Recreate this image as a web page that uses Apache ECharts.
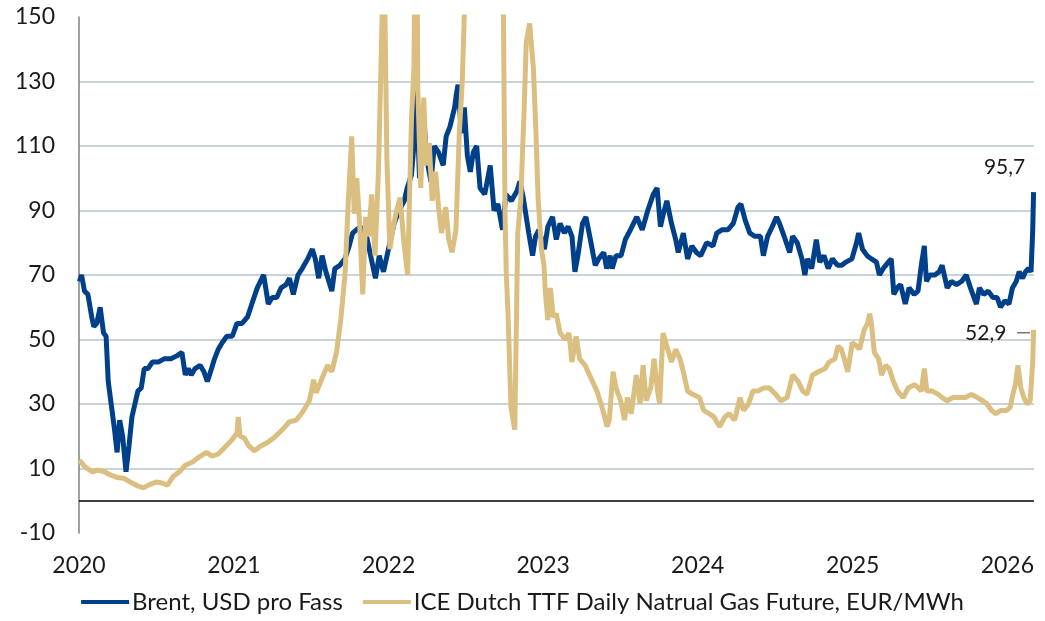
<!DOCTYPE html>
<html>
<head>
<meta charset="utf-8">
<script src="https://cdn.jsdelivr.net/npm/echarts@6/dist/echarts.min.js"></script>
<style>
  html, body { margin: 0; padding: 0; background: #fff; }
  #chart { width: 1045px; height: 621px; }
</style>
</head>
<body>
<div id="chart"></div>
<script>
// Brent (USD pro Fass)
const brentDates = [
  '2020-01-02','2020-01-07','2020-01-14','2020-01-22','2020-01-31','2020-02-05','2020-02-12','2020-02-20','2020-02-28','2020-03-05',
  '2020-03-10','2020-03-17','2020-03-24','2020-03-31','2020-04-06','2020-04-13','2020-04-21','2020-04-28','2020-05-05','2020-05-12',
  '2020-05-19','2020-05-27','2020-06-03','2020-06-12','2020-06-22','2020-07-06','2020-07-20','2020-08-05','2020-08-20','2020-08-31',
  '2020-09-08','2020-09-15','2020-09-22','2020-10-01','2020-10-13','2020-10-22','2020-10-30','2020-11-09','2020-11-16','2020-11-25',
  '2020-12-04','2020-12-15','2020-12-28','2021-01-08','2021-01-20','2021-02-02','2021-02-12','2021-02-25','2021-03-08','2021-03-12',
  '2021-03-23','2021-04-01','2021-04-12','2021-04-22','2021-05-04','2021-05-12','2021-05-21','2021-06-01','2021-06-11','2021-06-24',
  '2021-07-05','2021-07-12','2021-07-20','2021-07-28','2021-08-06','2021-08-20','2021-08-27','2021-09-08','2021-09-20','2021-09-30',
  '2021-10-08','2021-10-26','2021-11-10','2021-11-26','2021-12-01','2021-12-10','2021-12-20','2022-01-04','2022-01-14','2022-01-26',
  '2022-02-07','2022-02-14','2022-02-24','2022-03-03','2022-03-08','2022-03-15','2022-03-24','2022-04-01','2022-04-11','2022-04-19',
  '2022-04-29','2022-05-10','2022-05-17','2022-05-26','2022-06-06','2022-06-10','2022-06-14','2022-06-22','2022-06-29','2022-07-06',
  '2022-07-13','2022-07-20','2022-07-28','2022-08-05','2022-08-16','2022-08-29','2022-09-07','2022-09-16','2022-09-27','2022-10-05',
  '2022-10-18','2022-10-31','2022-11-07','2022-11-15','2022-11-28','2022-12-07','2022-12-14','2022-12-22','2023-01-04','2023-01-12',
  '2023-01-23','2023-02-01','2023-02-10','2023-02-20','2023-03-01','2023-03-10','2023-03-17','2023-03-24','2023-04-04','2023-04-12',
  '2023-04-21','2023-05-04','2023-05-12','2023-05-24','2023-05-31','2023-06-08','2023-06-13','2023-06-22','2023-07-04','2023-07-14',
  '2023-07-26','2023-08-10','2023-08-23','2023-09-05','2023-09-18','2023-09-27','2023-10-05','2023-10-10','2023-10-20','2023-10-31',
  '2023-11-10','2023-11-16','2023-11-28','2023-12-08','2023-12-18','2023-12-29','2024-01-08','2024-01-22','2024-02-06','2024-02-15',
  '2024-02-27','2024-03-12','2024-03-25','2024-04-05','2024-04-12','2024-04-22','2024-05-03','2024-05-15','2024-05-28','2024-06-04',
  '2024-06-14','2024-06-25','2024-07-05','2024-07-12','2024-07-23','2024-08-05','2024-08-12','2024-08-23','2024-09-03','2024-09-10',
  '2024-09-16','2024-09-26','2024-10-07','2024-10-15','2024-10-25','2024-11-04','2024-11-14','2024-11-26','2024-12-06','2024-12-16',
  '2024-12-30','2025-01-10','2025-01-15','2025-01-24','2025-02-04','2025-02-14','2025-02-26','2025-03-05','2025-03-14','2025-03-26',
  '2025-04-02','2025-04-08','2025-04-16','2025-04-24','2025-05-05','2025-05-14','2025-05-26','2025-06-04','2025-06-13','2025-06-19',
  '2025-06-24','2025-07-02','2025-07-14','2025-07-24','2025-07-31','2025-08-12','2025-08-22','2025-09-03','2025-09-15','2025-09-26',
  '2025-10-06','2025-10-20','2025-10-27','2025-11-06','2025-11-17','2025-11-28','2025-12-08','2025-12-16','2025-12-26','2026-01-05',
  '2026-01-13','2026-01-22','2026-01-29','2026-02-06','2026-02-13','2026-02-20','2026-02-26','2026-03-02','2026-03-04'
];
const brentValues = [
  68, 70, 65, 64, 57, 54, 55, 60, 52, 51,
  37, 30, 23, 15, 25, 20, 9, 17, 26, 30,
  34, 35, 41, 41, 43, 43, 44, 44, 45, 46,
  39, 41, 39, 41, 42, 40, 37, 41, 44, 47,
  49, 51, 51, 55, 55, 57, 61, 66, 69, 70,
  61, 63, 63, 66, 67, 69, 64, 70, 72, 75,
  78, 75, 69, 76, 71, 65, 72, 73, 75, 79,
  83, 85, 82, 72, 69, 76, 71, 80, 86, 90,
  93, 97, 101, 112, 127, 100, 121, 106, 99, 110,
  108, 104, 113, 116, 122, 126, 129, 114, 122, 107,
  102, 108, 110, 97, 95, 104, 90, 92, 84, 95,
  93, 96, 99, 94, 83, 76, 82, 84, 78, 85,
  88, 81, 86, 83, 85, 82, 71, 76, 86, 88,
  82, 73, 75, 77, 72, 76, 72, 76, 76, 81,
  84, 88, 84, 90, 95, 97, 85, 88, 93, 86,
  81, 77, 83, 75, 79, 77, 76, 80, 79, 83,
  84, 84, 86, 91, 92, 87, 83, 82, 82, 76,
  82, 85, 88, 86, 82, 77, 82, 80, 75, 70,
  75, 72, 81, 74, 76, 72, 75, 73, 73, 74,
  75, 80, 83, 78, 76, 75, 74, 70, 72, 74,
  75, 64, 66, 67, 61, 66, 64, 65, 74, 79,
  68, 70, 70, 71, 73, 66, 68, 67, 68, 70,
  66, 61, 66, 64, 65, 63, 63, 60, 62, 61,
  66, 68, 71, 69, 71, 72, 71, 84, 95.7
];

// ICE Dutch TTF (EUR/MWh); peaks above 150 are cut by the axis
const ttfDates = [
  '2020-01-02','2020-01-15','2020-02-01','2020-02-15','2020-03-01','2020-03-15','2020-04-01','2020-04-15','2020-05-01','2020-05-20',
  '2020-06-01','2020-06-15','2020-07-01','2020-07-15','2020-07-28','2020-08-10','2020-08-25','2020-09-08','2020-09-25','2020-10-10',
  '2020-10-28','2020-11-10','2020-11-25','2020-12-10','2020-12-28','2021-01-08','2021-01-11','2021-01-15','2021-01-25','2021-02-05',
  '2021-02-18','2021-03-05','2021-03-20','2021-04-05','2021-04-25','2021-05-12','2021-05-28','2021-06-12','2021-06-28','2021-07-08',
  '2021-07-14','2021-07-28','2021-08-10','2021-08-20','2021-08-31','2021-09-10','2021-09-20','2021-09-28','2021-10-06','2021-10-12',
  '2021-10-18','2021-10-25','2021-11-01','2021-11-08','2021-11-15','2021-11-22','2021-11-30','2021-12-08','2021-12-15','2021-12-21',
  '2021-12-28','2022-01-04','2022-01-12','2022-01-20','2022-01-28','2022-02-07','2022-02-15','2022-02-24','2022-03-02','2022-03-07',
  '2022-03-11','2022-03-18','2022-03-25','2022-03-31','2022-04-07','2022-04-14','2022-04-22','2022-04-29','2022-05-06','2022-05-16',
  '2022-05-23','2022-05-31','2022-06-09','2022-06-17','2022-06-24','2022-07-01','2022-07-15','2022-08-01','2022-08-26','2022-09-05',
  '2022-09-20','2022-09-28','2022-10-03','2022-10-06','2022-10-10','2022-10-17','2022-10-26','2022-11-02','2022-11-09','2022-11-17',
  '2022-11-22','2022-11-30','2022-12-09','2022-12-15','2022-12-20','2022-12-28','2023-01-03','2023-01-06','2023-01-12','2023-01-18',
  '2023-01-25','2023-02-01','2023-02-10','2023-02-22','2023-03-03','2023-03-10','2023-03-20','2023-03-28','2023-04-10','2023-04-24',
  '2023-05-08','2023-05-20','2023-06-01','2023-06-06','2023-06-15','2023-06-22','2023-07-03','2023-07-12','2023-07-19','2023-07-28',
  '2023-08-09','2023-08-18','2023-08-25','2023-09-01','2023-09-12','2023-09-20','2023-09-28','2023-10-03','2023-10-11','2023-10-20',
  '2023-10-31','2023-11-10','2023-11-20','2023-11-28','2023-12-08','2023-12-20','2024-01-05','2024-01-15','2024-01-28','2024-02-08',
  '2024-02-22','2024-03-05','2024-03-15','2024-03-28','2024-04-10','2024-04-18','2024-04-30','2024-05-10','2024-05-22','2024-06-05',
  '2024-06-18','2024-07-03','2024-07-15','2024-07-30','2024-08-12','2024-08-25','2024-09-05','2024-09-15','2024-09-28','2024-10-12',
  '2024-10-28','2024-11-06','2024-11-20','2024-11-27','2024-12-05','2024-12-12','2024-12-20','2024-12-31','2025-01-10','2025-01-17',
  '2025-01-28','2025-02-05','2025-02-10','2025-02-14','2025-02-21','2025-03-03','2025-03-10','2025-03-20','2025-03-28','2025-04-07',
  '2025-04-17','2025-04-30','2025-05-12','2025-05-27','2025-06-05','2025-06-12','2025-06-19','2025-06-25','2025-07-08','2025-07-22',
  '2025-07-31','2025-08-12','2025-08-25','2025-09-10','2025-09-24','2025-10-08','2025-10-22','2025-11-04','2025-11-14','2025-11-25',
  '2025-12-05','2025-12-16','2025-12-30','2026-01-08','2026-01-14','2026-01-20','2026-01-26','2026-02-02','2026-02-09','2026-02-17',
  '2026-02-24','2026-03-02','2026-03-04'
];
const ttfValues = [
  12.6, 10.5, 9, 9.5, 9, 8, 7.2, 7, 5.8, 4.5,
  4, 5, 5.8, 5.5, 4.8, 7.5, 9, 11, 12, 13.5,
  15, 13.8, 14.5, 16.5, 19, 21, 26, 20, 19.5, 17,
  15.5, 17, 18, 19.5, 22, 24.5, 25, 27.5, 31, 37.5,
  33.5, 38, 42, 40, 46, 56, 70, 93, 113, 89,
  100, 85, 64, 88, 82, 95, 76, 102, 140, 175,
  106, 78, 85, 90, 94, 79, 70, 118, 135, 215,
  128, 97, 125, 104, 111, 93, 102, 91, 83, 91,
  81, 77, 84, 114, 130, 160, 170, 190, 310, 240,
  190, 170, 89, 70, 58, 29, 22, 83, 93, 121,
  142, 148, 134, 114, 94, 78, 73, 65, 56, 66,
  57, 58, 52, 50, 52, 43, 51, 44, 42, 38,
  34, 29, 23, 25, 40, 35, 31, 25, 32, 27,
  39, 30, 42, 31, 35, 44, 34, 30, 52, 48,
  43, 47, 44, 40, 34, 33, 32, 28, 27, 26,
  23, 26, 27, 25, 32, 28, 30, 34, 34, 35,
  35, 33, 31, 32, 39, 37, 34, 33, 39, 40,
  41, 43, 44, 48, 47, 44, 40, 49, 48, 47,
  53, 55, 58, 55, 46, 44, 39, 42, 41, 37,
  34, 32, 35, 36, 35, 34, 41, 34, 34, 33,
  32, 31, 32, 32, 32, 33, 32, 31, 30, 28,
  27, 28, 28, 29, 33, 36, 42, 35, 32, 30,
  31, 43, 53
];

const seriesNames = ['Brent, USD pro Fass', 'ICE Dutch TTF Daily Natrual Gas Future, EUR/MWh'];
const seriesColors = ['#00408a', '#dbbf80'];
const lastLabels = ['95,7', '52,9'];

const brentData = brentDates.map((d, i) => [d, brentValues[i]]);
const ttfData = ttfDates.map((d, i) => [d, ttfValues[i]]);

const FONT = 'Lato, "Open Sans", sans-serif';

const chart = echarts.init(document.getElementById('chart'));

chart.setOption({
  animation: false,
  grid: { left: 79, right: 11, top: 17, bottom: 88 },
  legend: {
    bottom: 2,
    left: 'center',
    itemWidth: 48,
    itemHeight: 4,
    itemGap: 20,
    icon: 'rect',
    textStyle: { fontFamily: FONT, fontSize: 24, color: '#1a1a1a', padding: [0, 0, 0, -2] },
    data: seriesNames
  },
  xAxis: {
    type: 'time',
    min: '2020-01-01',
    max: '2026-03-05',
    splitNumber: 6,
    axisLine: { show: false },
    axisTick: { show: false },
    splitLine: { show: false },
    axisLabel: {
      margin: 21,
      fontFamily: FONT,
      fontSize: 23,
      color: '#1a1a1a',
      showMinLabel: true,
      formatter: function (val) {
        const d = new Date(val);
        return (d.getMonth() === 0 && d.getDate() === 1) ? String(d.getFullYear()) : '';
      }
    }
  },
  yAxis: {
    type: 'value',
    min: -10,
    max: 150,
    interval: 20,
    axisLine: { show: true, lineStyle: { color: '#808080', width: 1.5 } },
    axisTick: { show: false },
    splitLine: {
      show: true,
      showMinLine: false,
      showMaxLine: false,
      lineStyle: { color: '#b9c5ce', width: 1.5 }
    },
    axisLabel: { margin: 24, fontFamily: FONT, fontSize: 23, color: '#1a1a1a' }
  },
  series: [
    {
      name: seriesNames[0],
      type: 'line',
      data: brentData,
      showSymbol: false,
      color: seriesColors[0],
      lineStyle: { width: 5, color: seriesColors[0] },
      markPoint: {
        symbol: 'circle',
        symbolSize: 0,
        silent: true,
        data: [{ coord: brentData[brentData.length - 1] }],
        label: {
          show: true,
          formatter: lastLabels[0],
          offset: [-29, -25],
          fontFamily: FONT,
          fontSize: 21,
          color: '#1a1a1a'
        }
      },
      markLine: {
        silent: true,
        symbol: 'none',
        label: { show: false },
        lineStyle: { color: '#000', width: 1.5, type: 'solid' },
        data: [{ yAxis: 0 }]
      }
    },
    {
      name: seriesNames[1],
      type: 'line',
      data: ttfData,
      showSymbol: false,
      color: seriesColors[1],
      lineStyle: { width: 5, color: seriesColors[1] },
      markPoint: {
        symbol: 'circle',
        symbolSize: 0,
        silent: true,
        data: [{ coord: ttfData[ttfData.length - 1] }],
        label: {
          show: true,
          formatter: lastLabels[1] + '  {l|}',
          offset: [-36, 3],
          fontFamily: FONT,
          fontSize: 21,
          color: '#1a1a1a',
          rich: {
            l: { width: 13, height: 1, backgroundColor: '#333' }
          }
        }
      }
    }
  ]
});
</script>
</body>
</html>
